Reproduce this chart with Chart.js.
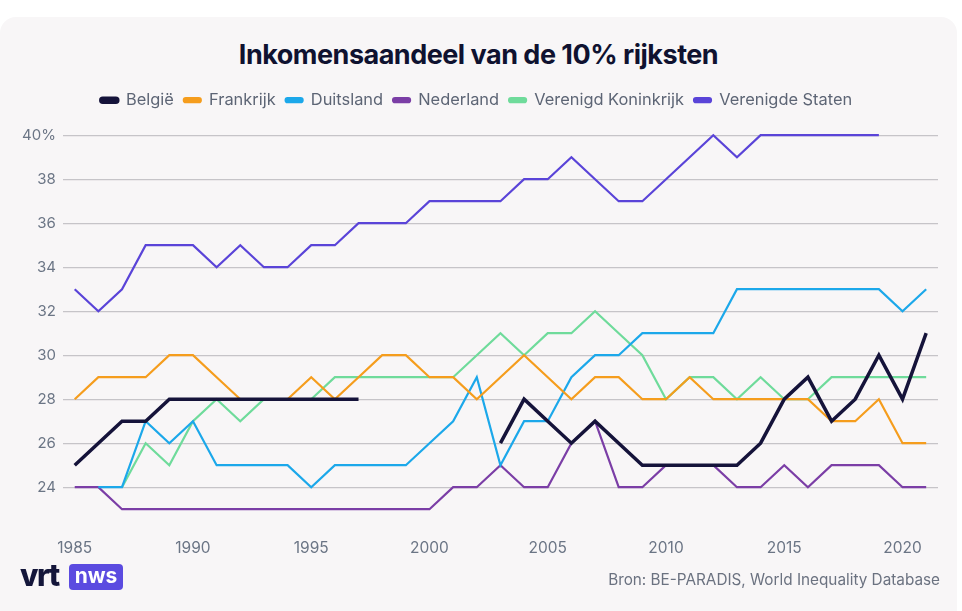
<!DOCTYPE html>
<html>
<head>
<meta charset="utf-8">
<script src="https://cdn.jsdelivr.net/npm/chart.js@4"></script>
<style>
  html, body { margin: 0; padding: 0; background: #ffffff; }
  body { width: 962px; height: 611px; position: relative; overflow: hidden; font-family: Inter, "Noto Sans", sans-serif; }
  .card { position: absolute; left: 0; top: 17px; width: 957px; height: 620px; background: #f8f6f7; border-radius: 16px; }
  h1 { position: absolute; left: 0; top: 38px; width: 957px; margin: 0; text-align: center; font-size: 27px; font-weight: 700; color: #0f1230; letter-spacing: -0.5px; }
  .wrap { position: absolute; left: 0; top: 76px; width: 957px; height: 502px; }
  .logo { position: absolute; left: 20px; top: 564px; height: 26px; display: flex; align-items: center; }
  .logo .vrt { font-size: 30px; font-weight: 800; color: #14163a; letter-spacing: -1.5px; margin-right: 10px; position: relative; top: -2px; }
  .logo .nws { background: #5b4be0; color: #fff; font-weight: 700; font-size: 21px; border-radius: 4px; padding: 0 6px; height: 26px; line-height: 24px; }
  .src { position: absolute; right: 22px; top: 570px; font-size: 15.3px; color: #6b7280; }
</style>
</head>
<body>
<div class="card"></div>
<h1>Inkomensaandeel van de 10% rijksten</h1>
<div class="wrap"><canvas id="c"></canvas></div>
<div class="logo"><span class="vrt">vrt</span><span class="nws">nws</span></div>
<div class="src">Bron: BE-PARADIS, World Inequality Database</div>
<script>
const years = [];
for (let y = 1985; y <= 2021; y++) years.push(y);

const yTicks = [24, 26, 28, 30, 32, 34, 36, 38, 40];

const belgie = [25, 26, 27, 27, 28, 28, 28, 28, 28, 28, 28, 28, 28, null, null, null, null, null,
  26, 28, 27, 26, 27, 26, 25, 25, 25, 25, 25, 26, 28, 29, 27, 28, 30, 28, 31];
const frankrijk = [28, 29, 29, 29, 30, 30, 29, 28, 28, 28, 29, 28, 29, 30, 30, 29, 29, 28,
  29, 30, 29, 28, 29, 29, 28, 28, 29, 28, 28, 28, 28, 28, 27, 27, 28, 26, 26];
const duitsland = [null, 24, 24, 27, 26, 27, 25, 25, 25, 25, 24, 25, 25, 25, 25, 26, 27, 29,
  25, 27, 27, 29, 30, 30, 31, 31, 31, 31, 33, 33, 33, 33, 33, 33, 33, 32, 33];
const nederland = [24, 24, 23, 23, 23, 23, 23, 23, 23, 23, 23, 23, 23, 23, 23, 23, 24, 24,
  25, 24, 24, 26, 27, 24, 24, 25, 25, 25, 24, 24, 25, 24, 25, 25, 25, 24, 24];
const verenigdKoninkrijk = [null, null, 24, 26, 25, 27, 28, 27, 28, 28, 28, 29, 29, 29, 29, 29, 29, 30,
  31, 30, 31, 31, 32, 31, 30, 28, 29, 29, 28, 29, 28, 28, 29, 29, 29, 29, 29];
const verenigdeStaten = [33, 32, 33, 35, 35, 35, 34, 35, 34, 34, 35, 35, 36, 36, 36, 37, 37, 37,
  37, 38, 38, 39, 38, 37, 37, 38, 39, 40, 39, 40, 40, 40, 40, 40, 40, null, null];

function line(label, data, color, width) {
  return { label, data, borderColor: color, backgroundColor: color, borderWidth: width,
    pointRadius: 0, pointHoverRadius: 0, tension: 0, spanGaps: false, borderJoinStyle: 'miter' };
}

// extra room under the legend
const legendGap = {
  id: 'legendGap',
  beforeInit(chart) {
    const fit = chart.legend.fit;
    chart.legend.fit = function () {
      fit.bind(chart.legend)();
      this.height += 8;
    };
  }
};

new Chart(document.getElementById('c'), {
  type: 'line',
  data: {
    labels: years,
    datasets: [
      line('België', belgie, '#15133a', 3.5),
      line('Frankrijk', frankrijk, '#f59d1d', 2.2),
      line('Duitsland', duitsland, '#1ca8ea', 2.2),
      line('Nederland', nederland, '#7b3ea6', 2.2),
      line('Verenigd Koninkrijk', verenigdKoninkrijk, '#6fdb9b', 2.2),
      line('Verenigde Staten', verenigdeStaten, '#5a44d8', 2.2)
    ]
  },
  plugins: [legendGap],
  options: {
    responsive: true,
    maintainAspectRatio: false,
    animation: false,
    layout: { padding: { left: 15, right: 19, top: 6, bottom: 0 } },
    plugins: {
      tooltip: { enabled: false },
      legend: {
        position: 'top',
        labels: {
          color: '#5d6575',
          font: { family: 'Inter', size: 16.4 },
          boxWidth: 17,
          boxHeight: 4,
          useBorderRadius: true,
          borderRadius: 2,
          padding: 10
        }
      }
    },
    scales: {
      x: {
        type: 'category',
        offset: true,
        grid: { display: false },
        border: { display: false },
        ticks: {
          autoSkip: false,
          maxRotation: 0,
          color: '#6b7585',
          font: { family: 'Inter', size: 15.5 },
          padding: 20,
          callback: (v, i) => years[i] % 5 === 0 ? String(years[i]) : ''
        }
      },
      y: {
        min: 22.9,
        max: 40.4,
        afterBuildTicks: axis => { axis.ticks = yTicks.map(v => ({ value: v })); },
        grid: { color: '#c6c4c8', lineWidth: 1.3, drawTicks: false },
        border: { display: false },
        ticks: {
          color: '#6b7585',
          font: { family: 'Inter', size: 15 },
          padding: 7,
          callback: v => v === 40 ? '40%' : String(v)
        }
      }
    }
  }
});
</script>
</body>
</html>
